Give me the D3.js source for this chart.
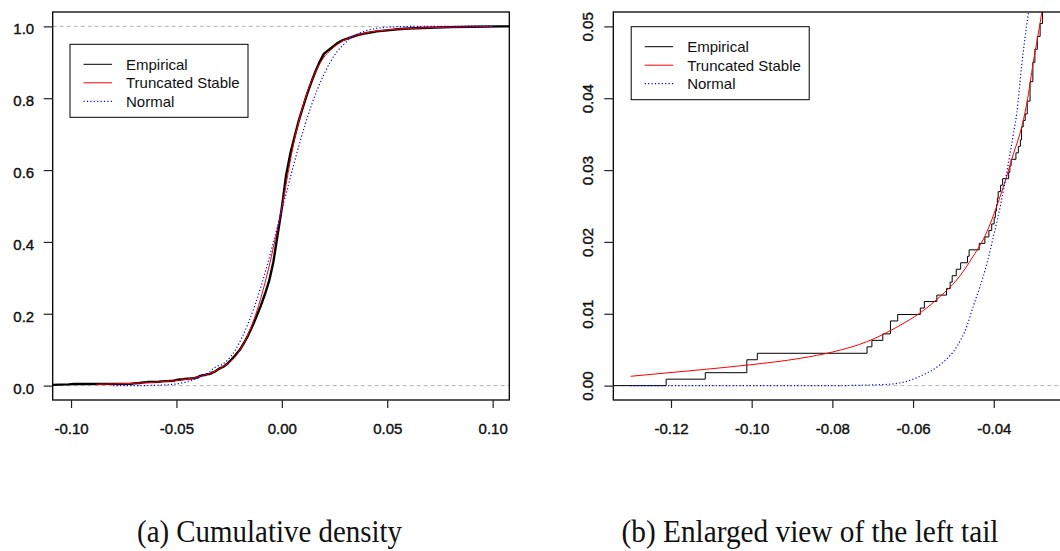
<!DOCTYPE html>
<html><head><meta charset="utf-8">
<script src="https://cdn.jsdelivr.net/npm/d3@7/dist/d3.min.js"></script>
<style>
body{margin:0;background:#fff;}
svg{display:block;}
</style></head>
<body>
<svg id="chart" width="1060" height="551"></svg>
<script>
// ---------------- data ----------------
// Empirical CDF breakpoints: x value of each jump and F after the jump
const empX = [-0.1212, -0.1115, -0.1012, -0.0986, -0.0714, -0.0702, -0.0675, -0.0656, -0.0638, -0.0582,
  -0.0572, -0.0541, -0.0517, -0.0508, -0.0503, -0.0493, -0.0482, -0.0465, -0.0461, -0.0436,
  -0.0422, -0.0412, -0.0405, -0.0399, -0.0396, -0.0393, -0.0391, -0.0389, -0.0383, -0.0378,
  -0.0363, -0.0360, -0.0357, -0.0345, -0.0339, -0.0334, -0.0331, -0.0327, -0.0322, -0.0317,
  -0.0310, -0.0303, -0.0298, -0.0292, -0.0285, -0.0279, -0.0274,
  -0.0260, -0.0240, -0.0220, -0.0200, -0.0180, -0.0160, -0.0140, -0.0120, -0.0100, -0.0080,
  -0.0060, -0.0040, -0.0020, 0.0000, 0.0020, 0.0040, 0.0060, 0.0080, 0.0100, 0.0120,
  0.0140, 0.0160, 0.0180, 0.0200, 0.0230, 0.0260, 0.0290, 0.0320, 0.0360, 0.0400,
  0.0450, 0.0500, 0.0550, 0.0600, 0.0700, 0.0800, 0.0900, 0.1036];
const empF = [0.0009, 0.0018, 0.0036, 0.0045, 0.0054, 0.0063, 0.0072, 0.0090, 0.0099, 0.0108,
  0.0117, 0.0126, 0.0135, 0.0144, 0.0153, 0.0162, 0.0171, 0.0180, 0.0189, 0.0198,
  0.0207, 0.0216, 0.0225, 0.0234, 0.0243, 0.0252, 0.0261, 0.0270, 0.0279, 0.0288,
  0.0297, 0.0306, 0.0315, 0.0324, 0.0333, 0.0342, 0.0360, 0.0369, 0.0378, 0.0396,
  0.0423, 0.0450, 0.0468, 0.0486, 0.0504, 0.0522, 0.0540,
  0.060, 0.072, 0.085, 0.099, 0.118, 0.140, 0.165, 0.193, 0.222, 0.255,
  0.292, 0.345, 0.420, 0.495, 0.585, 0.645, 0.692, 0.737, 0.775, 0.812,
  0.845, 0.875, 0.902, 0.924, 0.938, 0.952, 0.962, 0.968, 0.976, 0.981,
  0.986, 0.989, 0.992, 0.994, 0.996, 0.998, 0.999, 1.000];

// Fitted truncated stable CDF
const stableX = [-0.1300, -0.1128, -0.1004, -0.0880, -0.0798, -0.0715, -0.0632, -0.0583, -0.0533, -0.0492,
  -0.0451, -0.0417, -0.0393, -0.0368, -0.0351, -0.0335, -0.0318, -0.0302, -0.0285, -0.0270,
  -0.0250, -0.0220, -0.0200, -0.0180, -0.0160, -0.0140, -0.0120, -0.0100, -0.0080, -0.0060,
  -0.0040, -0.0020, 0.0000, 0.0020, 0.0040, 0.0060, 0.0080, 0.0100, 0.0120, 0.0140,
  0.0160, 0.0180, 0.0200, 0.0230, 0.0260, 0.0290, 0.0320, 0.0360, 0.0400, 0.0450,
  0.0500, 0.0600, 0.0700, 0.0800, 0.0900, 0.1000];
const stableF = [0.0013, 0.0022, 0.0029, 0.0038, 0.0047, 0.0061, 0.0084, 0.0101, 0.0124, 0.0147,
  0.0180, 0.0214, 0.0249, 0.0291, 0.0323, 0.0351, 0.0393, 0.0450, 0.0505, 0.0560,
  0.0640, 0.0810, 0.0980, 0.1180, 0.1430, 0.1720, 0.2050, 0.2430, 0.2860, 0.3330,
  0.3850, 0.4400, 0.4950, 0.5600, 0.6250, 0.6850, 0.7350, 0.7780, 0.8150, 0.8470,
  0.8730, 0.8960, 0.9140, 0.9330, 0.9480, 0.9600, 0.9680, 0.9760, 0.9820, 0.9870,
  0.9900, 0.9940, 0.9965, 0.9980, 0.9990, 0.9995];

// Fitted normal CDF
const normX = [-0.1300, -0.0800, -0.0700, -0.0657, -0.0616, -0.0575, -0.0533, -0.0492, -0.0467, -0.0451,
  -0.0434, -0.0417, -0.0401, -0.0384, -0.0368, -0.0351, -0.0343, -0.0331, -0.0314, -0.0280,
  -0.0250, -0.0220, -0.0190, -0.0160, -0.0130, -0.0100, -0.0070, -0.0040, -0.0010, 0.0020,
  0.0050, 0.0080, 0.0110, 0.0140, 0.0170, 0.0200, 0.0230, 0.0260, 0.0290, 0.0320,
  0.0360, 0.0400, 0.0450, 0.0500, 0.0600, 0.0700, 0.1000];
const normF = [0.0000, 0.0000, 0.0001, 0.0002, 0.0006, 0.0015, 0.0029, 0.0054, 0.0082, 0.0110,
  0.0138, 0.0170, 0.0207, 0.0249, 0.0296, 0.0351, 0.0379, 0.0444, 0.0519, 0.0600,
  0.0760, 0.1000, 0.1330, 0.1730, 0.2200, 0.2740, 0.3340, 0.3990, 0.4660, 0.5340,
  0.6010, 0.6660, 0.7260, 0.7800, 0.8270, 0.8670, 0.9010, 0.9280, 0.9480, 0.9640,
  0.9790, 0.9880, 0.9945, 0.9977, 0.9997, 1.0000, 1.0000];

const refLines = [0, 1];                 // gray dashed reference lines
const fitRangeA = [-0.10, 0.10];         // range over which fitted curves are drawn in panel (a)

const xTicksA = [-0.10, -0.05, 0.00, 0.05, 0.10];
const yTicksA = [0.0, 0.2, 0.4, 0.6, 0.8, 1.0];
const xTicksB = [-0.12, -0.10, -0.08, -0.06, -0.04];
const yTicksB = [0.00, 0.01, 0.02, 0.03, 0.04, 0.05];

const legendLabels = ["Empirical", "Truncated Stable", "Normal"];
const captions = ["(a) Cumulative density", "(b) Enlarged view of the left tail"];

// ---------------- drawing ----------------
const svg = d3.select("#chart");
svg.append("rect").attr("width", 1060).attr("height", 551).attr("fill", "#fff");

const FONT = "'Liberation Sans', Arial, Helvetica, sans-serif";
const styles = [
  {stroke: "#000", width: 1, dash: null},
  {stroke: "#ff0000", width: 1, dash: null},
  {stroke: "#0000ff", width: 1.2, dash: "1.2,2.2"}
];

const emp = empX.map((x, i) => ({x, F: empF[i]}));
const stab = stableX.map((x, i) => ({x, F: stableF[i]}));
const norm = normX.map((x, i) => ({x, F: normF[i]}));

function styleTickText(sel) {
  sel.attr("font-family", FONT).attr("font-size", 15).attr("fill", "#111")
    .attr("stroke", "#111").attr("stroke-width", 0.4);
}

function panel(cfg) {
  const g = svg.append("g");
  const x = d3.scaleLinear().domain(cfg.xDomain).range([cfg.left, cfg.right]);
  const y = d3.scaleLinear().domain(cfg.yDomain).range([cfg.bottom, cfg.top]);
  const clipId = "clip" + cfg.id;
  svg.append("clipPath").attr("id", clipId).append("rect")
    .attr("x", cfg.left).attr("y", cfg.top)
    .attr("width", cfg.right - cfg.left).attr("height", cfg.bottom - cfg.top);
  const plot = g.append("g").attr("clip-path", `url(#${clipId})`);

  // reference lines
  refLines.forEach(v => {
    plot.append("line").attr("x1", cfg.left).attr("x2", cfg.right)
      .attr("y1", y(v)).attr("y2", y(v))
      .attr("stroke", "#b4b4b4").attr("stroke-width", 1).attr("stroke-dasharray", "4,3");
  });

  // empirical
  const d0 = x.domain();
  const ePts = [{x: Math.min(d0[0], empX[0]) - 0.01, F: 0}, {x: empX[0], F: 0}]
    .concat(emp).concat([{x: d0[1] + 0.01, F: empF[empF.length - 1]}]);
  const line = d3.line().x(d => x(d.x)).y(d => y(d.F));
  plot.append("path").datum(ePts)
    .attr("d", line.curve(cfg.stepEmp ? d3.curveStepAfter : d3.curveLinear))
    .attr("fill", "none").attr("stroke", "#000").attr("stroke-width", cfg.empWidth)
    .attr("stroke-linejoin", "round");

  const fitFilter = d => d.x >= cfg.fitRange[0] - 1e-9 && d.x <= cfg.fitRange[1] + 1e-9;
  const smooth = d3.line().x(d => x(d.x)).y(d => y(d.F)).curve(d3.curveMonotoneX);
  plot.append("path").datum(stab.filter(fitFilter))
    .attr("d", smooth).attr("fill", "none")
    .attr("stroke", styles[1].stroke).attr("stroke-width", styles[1].width);
  plot.append("path").datum(norm.filter(fitFilter))
    .attr("d", smooth).attr("fill", "none")
    .attr("stroke", styles[2].stroke).attr("stroke-width", styles[2].width)
    .attr("stroke-dasharray", styles[2].dash);

  // box
  g.append("rect").attr("x", cfg.left).attr("y", cfg.top)
    .attr("width", cfg.right - cfg.left).attr("height", cfg.bottom - cfg.top)
    .attr("fill", "none").attr("stroke", "#000").attr("stroke-width", 1.3);

  // axes
  const xa = g.append("g").attr("transform", `translate(0,${cfg.bottom})`)
    .call(d3.axisBottom(x).tickValues(cfg.xTicks).tickFormat(v => v.toFixed(2))
      .tickSizeInner(8).tickSizeOuter(0).tickPadding(15.4));
  xa.select(".domain").remove();
  xa.selectAll("line").attr("stroke", "#222").attr("stroke-width", 1.2);
  styleTickText(xa.selectAll("text"));

  const ya = g.append("g").attr("transform", `translate(${cfg.left},0)`)
    .call(d3.axisLeft(y).tickValues(cfg.yTicks).tickFormat(v => v.toFixed(cfg.yDigits))
      .tickSizeInner(9).tickSizeOuter(0).tickPadding(9.5));
  ya.select(".domain").remove();
  ya.selectAll("line").attr("stroke", "#222").attr("stroke-width", 1.2);
  styleTickText(ya.selectAll("text"));
  if (cfg.rotY) {
    ya.selectAll("text").attr("x", 0).attr("y", 0).attr("dy", 0)
      .attr("text-anchor", "middle").attr("transform", "translate(-20,0) rotate(-90)");
  } else {
    ya.selectAll("text").attr("dy", "0.5em");
  }

  // legend
  const L = cfg.legend;
  const lg = g.append("g");
  lg.append("rect").attr("x", L.x).attr("y", L.y).attr("width", 178).attr("height", 73)
    .attr("fill", "#fff").attr("stroke", "#000").attr("stroke-width", 1);
  legendLabels.forEach((lab, i) => {
    const cy = L.y + 20 + i * 18.5;
    lg.append("line").attr("x1", L.x + 13.5).attr("x2", L.x + 42).attr("y1", cy).attr("y2", cy)
      .attr("stroke", styles[i].stroke).attr("stroke-width", styles[i].width)
      .attr("stroke-dasharray", styles[i].dash);
    lg.append("text").attr("x", L.x + 56).attr("y", cy + 5.3).text(lab)
      .attr("font-family", FONT).attr("font-size", 15).attr("fill", "#111");
  });
}

panel({id: "A", left: 52.7, right: 509.3, top: 12, bottom: 400,
  xDomain: [-0.1087, 0.1079], yDomain: [-0.04, 1.04],
  xTicks: xTicksA, yTicks: yTicksA, yDigits: 1, rotY: false,
  stepEmp: false, empWidth: 2.4, fitRange: fitRangeA,
  legend: {x: 70, y: 44.3}});

panel({id: "B", left: 613.3, right: 1071.2, top: 12, bottom: 400,
  xDomain: [-0.1343, -0.0208], yDomain: [-0.002, 0.052],
  xTicks: xTicksB, yTicks: yTicksB, yDigits: 2, rotY: true,
  stepEmp: true, empWidth: 1, fitRange: [-1, 1],
  legend: {x: 631.2, y: 26.7}});

// captions (Times-like, slightly condensed)
const capLayout = [{cx: 269.5, w: 265}, {cx: 810, w: 377}];
capLayout.forEach((c, i) => {
  svg.append("text").attr("x", c.cx - c.w / 2).attr("y", 542)
    .attr("textLength", c.w).attr("lengthAdjust", "spacingAndGlyphs")
    .attr("font-family", "'Liberation Serif', 'Times New Roman', serif")
    .attr("font-size", 32).attr("fill", "#111").text(captions[i]);
});
</script>
</body></html>
